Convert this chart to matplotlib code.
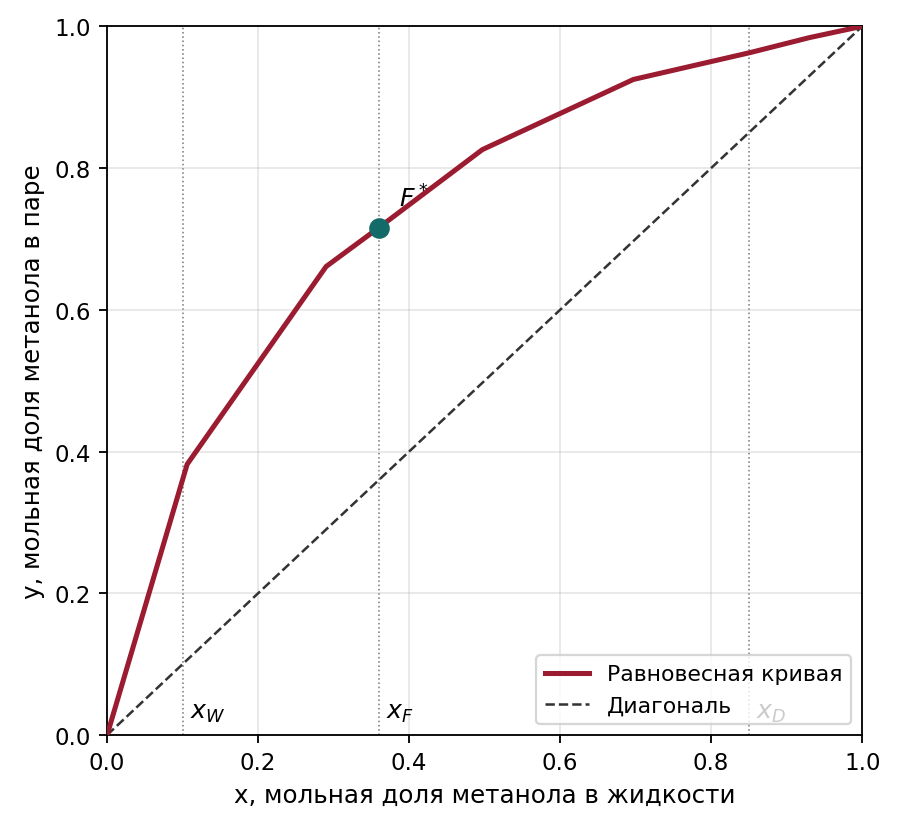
import matplotlib
matplotlib.use("Agg")
import matplotlib.pyplot as plt

# equilibrium data, methanol-water
x_eq = [0.0, 0.106, 0.29, 0.36, 0.497, 0.697, 0.852, 0.93, 1.0]
y_eq = [0.0, 0.382, 0.661, 0.716, 0.826, 0.925, 0.963, 0.984, 1.0]

xW = 0.10
xF = 0.36
xD = 0.85
yF = 0.716

fig, ax = plt.subplots(figsize=(900 / 165, 827 / 165), dpi=165)

ax.plot(x_eq, y_eq, color='#9b1b30', lw=2.2, label='Равновесная кривая', zorder=3)
ax.plot([0, 1], [0, 1], color='#333333', lw=1.1, ls='--', label='Диагональ', zorder=2)

for xv, name in [(xW, 'x_W'), (xF, 'x_F'), (xD, 'x_D')]:
    ax.axvline(xv, color='gray', lw=0.7, ls=':', zorder=1)
    ax.text(xv + 0.01, 0.025, f'${name}$', fontsize=11)

ax.plot([xF], [yF], 'o', color='#126b69', ms=8, zorder=4)
ax.text(xF + 0.027, yF + 0.03, '$F^*$', fontsize=11)

ax.set_xlim(0, 1)
ax.set_ylim(0, 1)
ax.set_xlabel('x, мольная доля метанола в жидкости', fontsize=10.7)
ax.set_ylabel('y, мольная доля метанола в паре', fontsize=10.7)
ax.grid(True, alpha=0.3)
ax.legend(loc='lower right', fontsize=9.6)

fig.subplots_adjust(left=0.119, right=0.958, top=0.967, bottom=0.11)
plt.savefig('out.png')
